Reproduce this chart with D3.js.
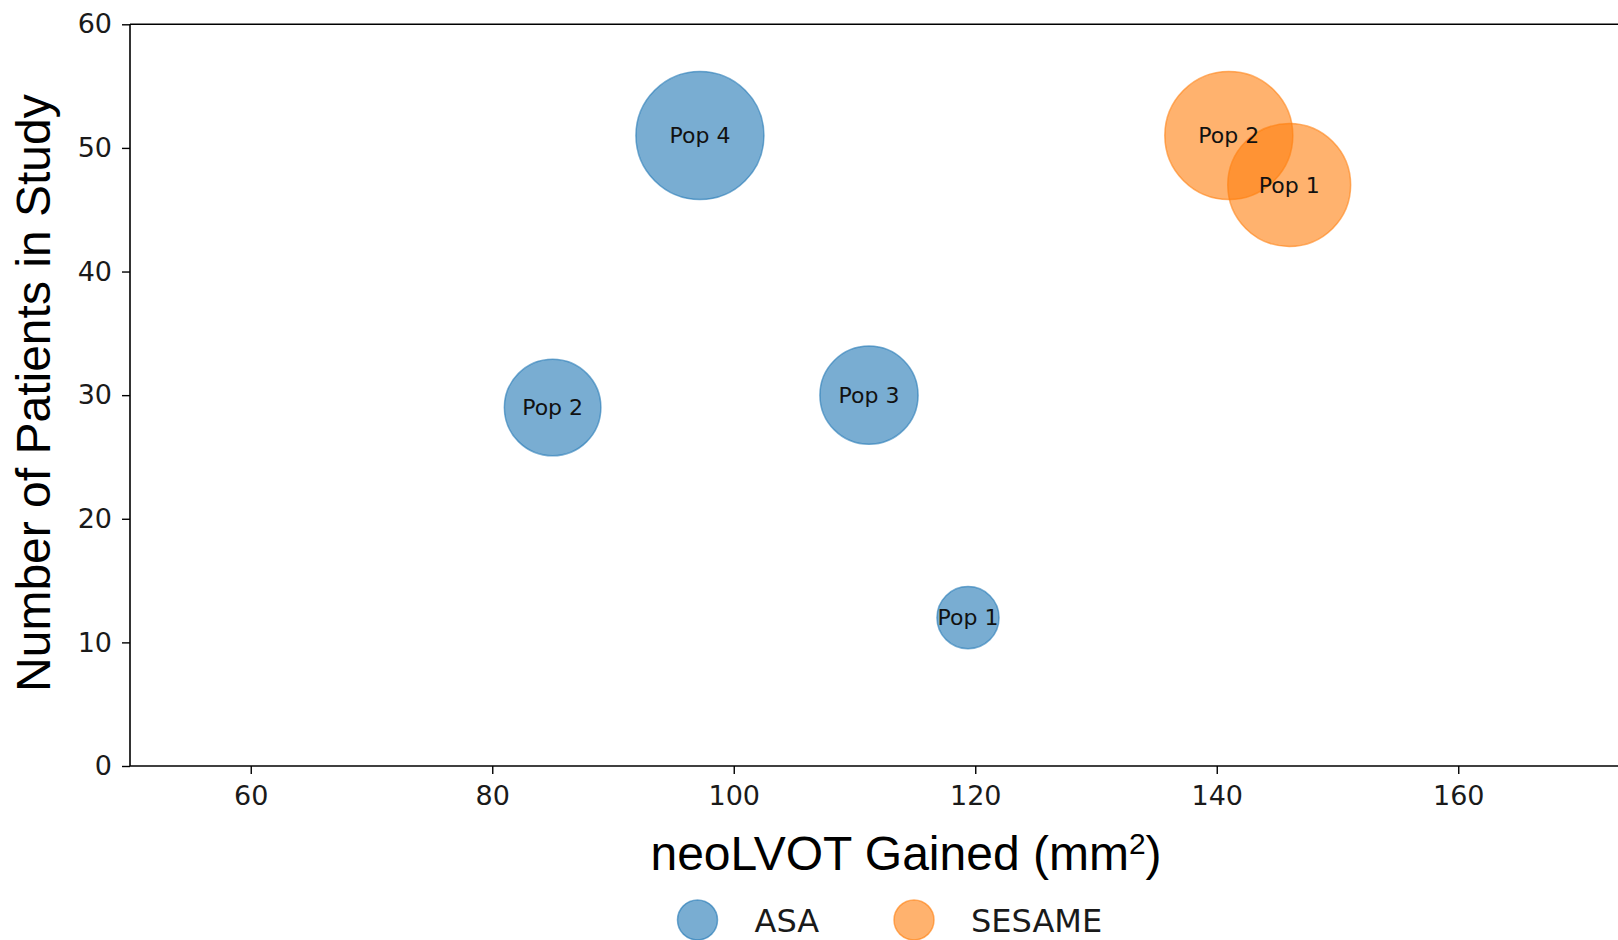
<!DOCTYPE html>
<html>
<head>
<meta charset="utf-8">
<script src="https://cdn.jsdelivr.net/npm/d3@7"></script>
<style>
  html, body { margin: 0; padding: 0; background: #fff; }
  svg { display: block; }
</style>
</head>
<body>
<svg id="chart" width="1618" height="940"></svg>
<script>
// ---- data ----
const groups = ["ASA", "SESAME"];
const groupColors = ["#1f77b4", "#ff7f0e"];
const asaLabels = ["Pop 1", "Pop 2", "Pop 3", "Pop 4"];
const asaGained = [119.4, 85, 111.2, 97.2];
const asaPatients = [12, 29, 30, 51];
const sesameLabels = ["Pop 1", "Pop 2"];
const sesameGained = [146, 141];
const sesamePatients = [47, 51];
const xTicks = [60, 80, 100, 120, 140, 160];
const yTicks = [0, 10, 20, 30, 40, 50, 60];

(function () {
// ---- layout ----
const svg = d3.select("#chart");
const mLeft = 130, mTop = 24.3, mBottom = 766;
const pxPerUnit = 12.075;
const xMin = 50, xMax = 178;
const x = d3.scaleLinear().domain([xMin, xMax]).range([mLeft, mLeft + (xMax - xMin) * pxPerUnit]);
const y = d3.scaleLinear().domain([0, 60]).range([mBottom, mTop]);
const r = d3.scaleSqrt().domain([0, 51]).range([0, 64]);

const tickFont = "'DejaVu Sans', sans-serif";

// axes
const xAxis = svg.append("g").attr("transform", `translate(0,${mBottom})`)
  .call(d3.axisBottom(x).tickValues(xTicks).tickSize(8).tickPadding(12).tickFormat(d3.format("d")));
const yAxis = svg.append("g").attr("transform", `translate(${mLeft},0)`)
  .call(d3.axisLeft(y).tickValues(yTicks).tickSize(8).tickPadding(10).tickFormat(d3.format("d")));
[xAxis, yAxis].forEach(g => {
  g.select(".domain").attr("stroke", "#000").attr("stroke-width", 1.6);
  g.selectAll(".tick line").attr("stroke", "#000").attr("stroke-width", 1.4);
  g.selectAll(".tick text").attr("fill", "#1a1a1a").style("font-family", tickFont).style("font-size", "27px");
});
// top spine
svg.append("line").attr("x1", mLeft).attr("x2", 1618).attr("y1", mTop).attr("y2", mTop)
  .attr("stroke", "#000").attr("stroke-width", 1.6);
xAxis.select(".domain").attr("d", `M${mLeft},0H1618`);
yAxis.select(".domain").attr("d", `M0,${mBottom}V${mTop}`);

// bubbles
const data = [];
asaLabels.forEach((l, i) => data.push({g: 0, label: l, x: asaGained[i], y: asaPatients[i]}));
sesameLabels.forEach((l, i) => data.push({g: 1, label: l, x: sesameGained[i], y: sesamePatients[i]}));

svg.append("g").selectAll("circle").data(data).join("circle")
  .attr("cx", d => x(d.x)).attr("cy", d => y(d.y)).attr("r", d => r(d.y))
  .attr("fill", d => groupColors[d.g]).attr("fill-opacity", 0.6)
  .attr("stroke", d => groupColors[d.g]).attr("stroke-opacity", 0.6).attr("stroke-width", 1.5);

svg.append("g").selectAll("text").data(data).join("text")
  .attr("x", d => x(d.x)).attr("y", d => y(d.y))
  .attr("text-anchor", "middle").attr("dy", "0.35em")
  .style("font-family", tickFont).style("font-size", "22px").attr("fill", "#111")
  .text(d => d.label);

// axis labels
const labelFont = "'Liberation Sans', Arial, sans-serif";
const xl = svg.append("text").attr("x", 906).attr("y", 870).attr("text-anchor", "middle")
  .style("font-family", labelFont).style("font-size", "48px").attr("fill", "#000");
xl.append("tspan").text("neoLVOT Gained (mm");
xl.append("tspan").attr("dy", -16).style("font-size", "30px").text("2");
xl.append("tspan").attr("dy", 16).text(")");

svg.append("text").attr("transform", `translate(50,${(mTop + mBottom) / 2 - 2}) rotate(-90)`)
  .attr("text-anchor", "middle")
  .style("font-family", labelFont).style("font-size", "48px").attr("fill", "#000")
  .text("Number of Patients in Study");

// legend
const legendX = [697.5, 914];
const legend = svg.append("g").selectAll("g").data(groups).join("g")
  .attr("transform", (d, i) => `translate(${legendX[i]},920)`);
legend.append("circle").attr("r", 20)
  .attr("fill", (d, i) => groupColors[i]).attr("fill-opacity", 0.6)
  .attr("stroke", (d, i) => groupColors[i]).attr("stroke-opacity", 0.6).attr("stroke-width", 1.5);
legend.append("text").attr("x", 57).attr("y", 12)
  .style("font-family", tickFont).style("font-size", "32px").attr("fill", "#1a1a1a")
  .text(d => d);
})();
</script>
</body>
</html>
